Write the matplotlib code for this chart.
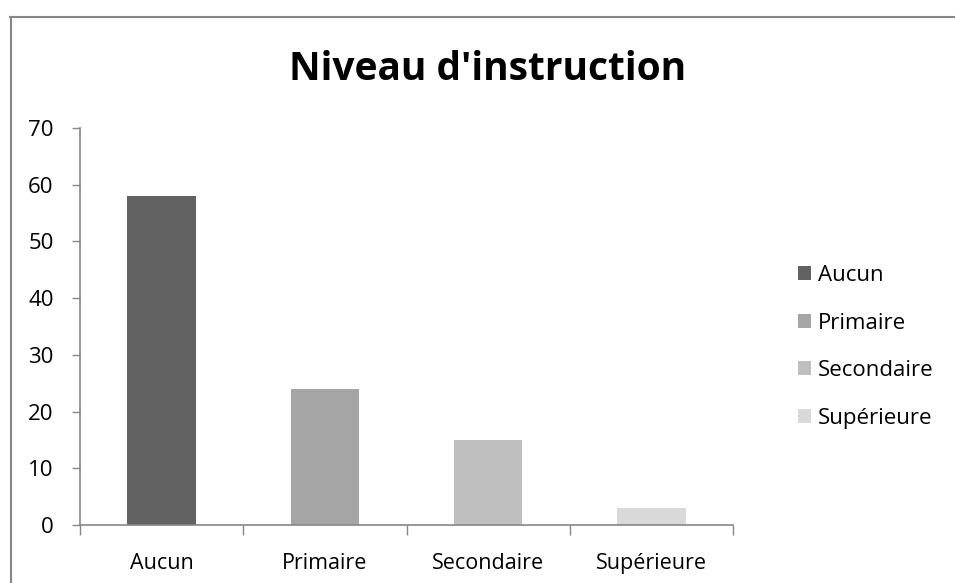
"""
Histogramme du niveau d'instruction (style Excel).
"""
import matplotlib
matplotlib.use('Agg')
import matplotlib.pyplot as plt
from matplotlib.lines import Line2D
from matplotlib.patches import Patch

# Données
categories = ['Aucun', 'Primaire', 'Secondaire', 'Supérieure']
valeurs = [58, 24, 15, 3]
couleurs = ['#626262', '#A5A5A5', '#BFBFBF', '#D9D9D9']
yticks = [0, 10, 20, 30, 40, 50, 60, 70]

plt.rcParams['font.family'] = ['Open Sans', 'DejaVu Sans']
gris_axe = '#868686'

W, H = 955, 583
fig = plt.figure(figsize=(W / 100, H / 100), dpi=100)

# Zone de tracé
ax = fig.add_axes([80 / W, (H - 525) / H, (733 - 80) / W, (525 - 128) / H])
x = range(len(categories))
ax.bar(x, valeurs, width=0.42, color=couleurs, zorder=2)

ax.set_xlim(-0.5, len(categories) - 0.5)
ax.set_ylim(0, 70)
ax.set_yticks(yticks)
ax.tick_params(axis='y', length=6, width=1, color=gris_axe, labelsize=16, pad=13)

# étiquettes au centre, traits entre les catégories
ax.set_xticks(list(x))
ax.set_xticklabels(categories)
ax.tick_params(axis='x', which='major', length=0, labelsize=15.5, pad=20)
ax.set_xticks([i - 0.5 for i in range(len(categories) + 1)], minor=True)
ax.tick_params(axis='x', which='minor', length=7, width=1, color=gris_axe)

for s in ['top', 'right']:
    ax.spines[s].set_visible(False)
for s in ['left', 'bottom']:
    ax.spines[s].set_color(gris_axe)
    ax.spines[s].set_linewidth(1.2)

# Titre
fig.text(488 / W, 1 - 70 / H, "Niveau d'instruction", ha='center', va='center',
         fontsize=28, fontweight='bold')

# Légende
poignees = [Patch(facecolor=c, edgecolor='none') for c in couleurs]
fig.legend(poignees, categories, loc='upper left',
           bbox_to_anchor=(789 / W, 1 - 256 / H), frameon=False,
           fontsize=16, handlelength=0.6, handleheight=0.6,
           handletextpad=0.3, labelspacing=1.2, borderaxespad=0)

# Cadre du graphique
fig.add_artist(Line2D([10.5 / W, 10.5 / W], [0, 1 - 16.5 / H], color=gris_axe,
                      lw=1.5, transform=fig.transFigure))
fig.add_artist(Line2D([10 / W, 1], [1 - 16.5 / H, 1 - 16.5 / H], color=gris_axe,
                      lw=1.5, transform=fig.transFigure))

fig.savefig('out.png', dpi=100)
